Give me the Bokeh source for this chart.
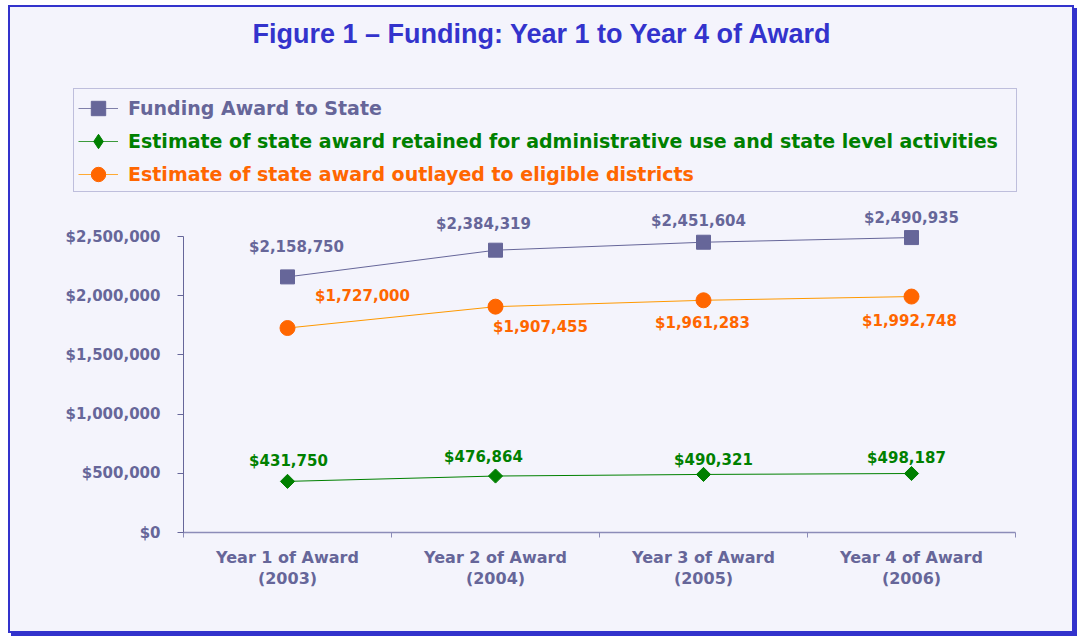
import math
from bokeh.plotting import figure
from bokeh.layouts import column
from bokeh.models import (Range1d, LinearAxis, FixedTicker, NumeralTickFormatter, Legend,
                          LegendItem, LabelSet, Label, ColumnDataSource)
from bokeh.embed import file_html
from bokeh.resources import INLINE
from bokeh.core.properties import value

# ---------------- data ----------------
categories = ["Year 1 of Award\n(2003)", "Year 2 of Award\n(2004)",
              "Year 3 of Award\n(2005)", "Year 4 of Award\n(2006)"]
funding_award = [2158750, 2384319, 2451604, 2490935]
retained_admin = [431750, 476864, 490321, 498187]
outlayed_districts = [1727000, 1907455, 1961283, 1992748]
y_ticks = [0, 500000, 1000000, 1500000, 2000000, 2500000]
series_names = ["Funding Award to State",
                "Estimate of state award retained for administrative use and state level activities",
                "Estimate of state award outlayed to eligible districts"]
title_text = "Figure 1 \u2013 Funding: Year 1 to Year 4 of Award"

# ---------------- styling / layout ----------------
C_FUND = "#666699"
C_RET = "#008000"
C_OUT_M = "#FF6600"
C_OUT_L = "#FF9900"
C_TITLE = "#3333CC"
BG = "#F4F4FC"
FONT = "DejaVu Sans"

# label offsets in screen px (+y = up)
fund_dx, fund_dy = [9, -12, -5, 0], [30, 26, 21, 20]
ret_dx, ret_dy = [1, -12, 10, -5], [20, 19, 14, 16]
out_dx, out_dy = [75, 45, -1, -2], [32, -20, -23, -24]

W = 1062
TOP_H, MAIN_H = 200, 424
MB_L, MB_R, MB_T, MB_B = 173, 57, 0, 99
AXIS_PX = 296  # pixel height of the 0..2.5M axis
frame_h = MAIN_H - MB_T - MB_B
ymax = y_ticks[-1] * frame_h / AXIS_PX

n = len(categories)
xs = list(range(n))


def no_align(fig):
    try:
        fig.frame_align = False
    except Exception:
        pass


# ---------------- main chart ----------------
p = figure(width=W, height=MAIN_H, output_backend="svg", toolbar_location=None, tools="",
           x_range=Range1d(-0.5, n - 0.5), y_range=Range1d(0, ymax),
           x_axis_type=None, y_axis_type=None,
           min_border_left=MB_L, min_border_right=MB_R, min_border_top=MB_T,
           min_border_bottom=MB_B)
p.background_fill_color = BG
p.border_fill_color = BG
p.outline_line_color = None
p.grid.visible = False
no_align(p)

yax = LinearAxis(ticker=FixedTicker(ticks=y_ticks, minor_ticks=[]),
                 formatter=NumeralTickFormatter(format="$0,0"),
                 bounds=(y_ticks[0], y_ticks[-1]))
yax.axis_line_color = C_FUND
yax.major_tick_line_color = C_FUND
yax.major_tick_out = 6
yax.major_tick_in = 0
yax.minor_tick_line_color = None
yax.major_label_standoff = 17
yax.major_label_text_font = FONT
yax.major_label_text_font_style = "bold"
yax.major_label_text_font_size = "15px"
yax.major_label_text_color = C_FUND
p.add_layout(yax, "left")

xax = LinearAxis(ticker=FixedTicker(ticks=xs, minor_ticks=[i - 0.5 for i in range(n + 1)]),
                 major_label_overrides={i: c for i, c in zip(xs, categories)})
xax.axis_line_color = "#8C8CB8"
xax.axis_line_width = 1.5
xax.major_tick_line_color = None
xax.major_tick_out = 0
xax.major_tick_in = 0
xax.minor_tick_line_color = "#8C8CB8"
xax.minor_tick_out = 5
xax.minor_tick_in = 0
xax.major_label_standoff = 10
xax.major_label_text_font = FONT
xax.major_label_text_font_style = "bold"
xax.major_label_text_font_size = "16px"
xax.major_label_text_color = C_FUND
xax.major_label_text_line_height = 1.13
p.add_layout(xax, "below")

src_f = ColumnDataSource(dict(x=xs, y=funding_award, t=["${:,}".format(v) for v in funding_award],
                              dx=fund_dx, dy=fund_dy))
src_r = ColumnDataSource(dict(x=xs, y=retained_admin, t=["${:,}".format(v) for v in retained_admin],
                              dx=ret_dx, dy=ret_dy))
src_o = ColumnDataSource(dict(x=xs, y=outlayed_districts, t=["${:,}".format(v) for v in outlayed_districts],
                              dx=out_dx, dy=out_dy))

FUND_LINE = dict(line_color=C_FUND, line_width=1)
FUND_MARK = dict(marker="square", size=14, fill_color=C_FUND, line_color=C_FUND)
RET_LINE = dict(line_color=C_RET, line_width=1)
RET_MARK = dict(marker="square", angle=math.pi / 4, size=10, fill_color=C_RET, line_color=C_RET)
OUT_LINE = dict(line_color=C_OUT_L, line_width=1)
OUT_MARK = dict(marker="circle", size=15, fill_color=C_OUT_M, line_color=C_OUT_M)

p.line("x", "y", source=src_f, **FUND_LINE)
p.scatter("x", "y", source=src_f, **FUND_MARK)
p.line("x", "y", source=src_r, **RET_LINE)
p.scatter("x", "y", source=src_r, **RET_MARK)
p.line("x", "y", source=src_o, **OUT_LINE)
p.scatter("x", "y", source=src_o, **OUT_MARK)

for src, col in [(src_f, C_FUND), (src_r, C_RET), (src_o, C_OUT_M)]:
    p.add_layout(LabelSet(x="x", y="y", text="t", x_offset="dx", y_offset="dy", source=src,
                          text_align="center", text_baseline="middle",
                          text_font=value(FONT), text_font_style="bold",
                          text_font_size="15px", text_color=col))

# ---------------- header: title + legend ----------------
h = figure(width=W, height=TOP_H, output_backend="svg", toolbar_location=None, tools="",
           x_range=Range1d(0, 1), y_range=Range1d(0, 1), x_axis_type=None, y_axis_type=None,
           min_border_left=0, min_border_right=0, min_border_top=0, min_border_bottom=0)
h.background_fill_color = BG
h.border_fill_color = BG
h.outline_line_color = None
h.grid.visible = False
no_align(h)

h.add_layout(Label(x=532, y=174, x_units="screen", y_units="screen", text=title_text,
                   text_align="center", text_baseline="middle", text_font="Liberation Sans",
                   text_font_style="bold", text_font_size="27px", text_color=C_TITLE))

# legend proxies: same series and styling, outside this header's ranges (not visible)
LEG_LINE_F = dict(line_color="#8080AA", line_width=1)
LEG_LINE_R = dict(line_color="#3C9A3C", line_width=1)
LEG_LINE_O = dict(line_color="#FFAA33", line_width=1)
pf = [h.line("x", "y", source=src_f, **LEG_LINE_F), h.scatter("x", "y", source=src_f, **FUND_MARK)]
pr = [h.line("x", "y", source=src_r, **LEG_LINE_R),
      h.scatter("x", "y", source=src_r, marker="diamond", fill_color=C_RET, line_color=C_RET)]
po = [h.line("x", "y", source=src_o, **LEG_LINE_O), h.scatter("x", "y", source=src_o, **OUT_MARK)]
blank = h.scatter("x", "y", source=src_f, fill_alpha=0, line_alpha=0)

text_style = dict(label_text_font=FONT, label_text_font_style="bold", label_text_font_size="19px",
                  margin=0, orientation="vertical", label_standoff=10, glyph_width=40)
box = Legend(items=[LegendItem(label=" ", renderers=[blank]) for _ in range(3)],
             location=(63, 15), padding=3, spacing=3, glyph_height=30, label_height=30,
             label_width=886, border_line_color="#8888BB", border_line_width=1,
             background_fill_alpha=0, **text_style)
h.add_layout(box)
for i, (name, rs, col) in enumerate([(series_names[0], pf, C_FUND),
                                     (series_names[1], pr, C_RET),
                                     (series_names[2], po, C_OUT_M)]):
    lg = Legend(items=[LegendItem(label=name, renderers=rs)], location=(68, 81 - 33 * i),
                padding=4, glyph_height=36, label_height=36,
                border_line_color=None, background_fill_alpha=0, label_text_color=col, **text_style)
    h.add_layout(lg)

layout = column(h, p, spacing=0,
                styles={"border": "2px solid #3333CC", "box-shadow": "3px 3px 0px #3333CC",
                        "margin-left": "8px", "margin-top": "5px", "background-color": BG})

open("out.html", "w").write(file_html(layout, INLINE))
